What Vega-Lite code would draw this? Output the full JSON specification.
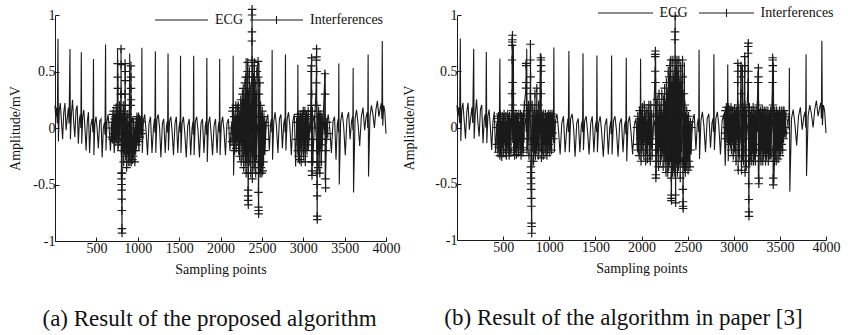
{
"$schema": "https://vega.github.io/schema/vega-lite/v6.json",
"padding": {"left": 8, "top": 2, "right": 5, "bottom": 5},
"config": {
  "view": {"stroke": null},
  "font": "Liberation Serif, Times New Roman, Tinos, DejaVu Serif, serif",
  "axis": {"labelFont": "Liberation Serif, Times New Roman, Tinos, DejaVu Serif, serif", "labelFontSize": 14, "titleFont": "Liberation Serif, Times New Roman, Tinos, DejaVu Serif, serif", "titleFontSize": 14, "titleFontWeight": "normal", "domainColor": "#1a1a1a", "tickColor": "#1a1a1a", "labelColor": "#111", "titleColor": "#111", "grid": false, "tickSize": -4, "labelOverlap": false, "labelFlush": false},
  "legend": {"labelFont": "Liberation Serif, Times New Roman, Tinos, DejaVu Serif, serif", "labelFontSize": 14, "labelColor": "#111", "padding": 0}
},
"datasets": {
"ecg": [
{"x":0,"y":0.20},{"x":8,"y":0.10},{"x":18,"y":0.18},{"x":28,"y":0.04},{"x":36,"y":0.79},{"x":41,"y":-0.12},{"x":52,"y":0.16},{"x":64,"y":0.22},{"x":78,"y":0.06},{"x":92,"y":-0.10},{"x":106,"y":0.14},{"x":120,"y":0.22},{"x":134,"y":-0.02},{"x":150,"y":0.10},{"x":162,"y":0.18},{"x":170,"y":0.04},
{"x":181,"y":0.70},{"x":186,"y":-0.10},{"x":198,"y":0.12},{"x":212,"y":0.25},{"x":226,"y":0.05},{"x":240,"y":-0.08},{"x":254,"y":0.16},{"x":268,"y":0.20},{"x":282,"y":-0.14},{"x":296,"y":0.08},{"x":306,"y":0.12},{"x":312,"y":0},
{"x":318,"y":0.67},{"x":323,"y":-0.14},{"x":335,"y":0.10},{"x":348,"y":0.16},{"x":362,"y":0},{"x":376,"y":-0.20},{"x":390,"y":0.05},{"x":404,"y":0.14},{"x":418,"y":-0.22},{"x":432,"y":0.02},{"x":448,"y":0.08},{"x":458,"y":-0.04},
{"x":465,"y":0.61},{"x":470,"y":-0.24},{"x":482,"y":0.04},{"x":496,"y":0.10},{"x":510,"y":-0.02},{"x":524,"y":-0.18},{"x":540,"y":0.06},{"x":556,"y":0.08},{"x":570,"y":-0.26},{"x":584,"y":0},{"x":598,"y":0.05},{"x":604,"y":-0.06},
{"x":611,"y":0.74},{"x":616,"y":-0.20},{"x":628,"y":0.06},{"x":642,"y":0.12},{"x":656,"y":-0.02},{"x":670,"y":-0.20},{"x":686,"y":0.04},{"x":700,"y":0.08},{"x":716,"y":-0.22},{"x":730,"y":0.02},{"x":744,"y":0.08},{"x":750,"y":-0.04},
{"x":756,"y":0.70},{"x":761,"y":-0.20},{"x":773,"y":0.06},{"x":786,"y":0.12},{"x":800,"y":0},{"x":814,"y":-0.22},{"x":830,"y":0.04},{"x":846,"y":0.10},{"x":862,"y":-0.20},{"x":876,"y":0},{"x":890,"y":0.06},{"x":896,"y":-0.05},
{"x":903,"y":0.66},{"x":908,"y":-0.22},{"x":920,"y":0.04},{"x":934,"y":0.10},{"x":950,"y":-0.02},{"x":966,"y":-0.22},{"x":982,"y":0.04},{"x":998,"y":0.10},{"x":1014,"y":-0.20},{"x":1028,"y":0.02},{"x":1040,"y":0.06},{"x":1045,"y":-0.05},
{"x":1050,"y":0.71},{"x":1055,"y":-0.22},{"x":1068,"y":0.06},{"x":1084,"y":0.12},{"x":1100,"y":-0.02},{"x":1118,"y":-0.24},{"x":1136,"y":0.04},{"x":1154,"y":0.10},{"x":1172,"y":-0.22},{"x":1190,"y":0},{"x":1202,"y":0.08},{"x":1207,"y":-0.04},
{"x":1213,"y":0.68},{"x":1218,"y":-0.22},{"x":1232,"y":0.08},{"x":1248,"y":0.12},{"x":1264,"y":0},{"x":1280,"y":-0.26},{"x":1298,"y":0.04},{"x":1314,"y":0.08},{"x":1332,"y":-0.22},{"x":1348,"y":0.02},{"x":1358,"y":0.06},{"x":1361,"y":-0.04},
{"x":1366,"y":0.66},{"x":1371,"y":-0.20},{"x":1384,"y":0.06},{"x":1400,"y":0.10},{"x":1416,"y":-0.04},{"x":1432,"y":-0.24},{"x":1450,"y":0.04},{"x":1466,"y":0.10},{"x":1484,"y":-0.22},{"x":1498,"y":0},{"x":1510,"y":0.06},{"x":1513,"y":-0.04},
{"x":1517,"y":0.64},{"x":1522,"y":-0.22},{"x":1536,"y":0.04},{"x":1552,"y":0.10},{"x":1568,"y":-0.04},{"x":1586,"y":-0.26},{"x":1604,"y":0.02},{"x":1622,"y":0.08},{"x":1640,"y":-0.24},{"x":1656,"y":0},{"x":1668,"y":0.06},{"x":1671,"y":-0.06},
{"x":1676,"y":0.64},{"x":1681,"y":-0.24},{"x":1696,"y":0.06},{"x":1712,"y":0.10},{"x":1728,"y":-0.02},{"x":1746,"y":-0.26},{"x":1764,"y":0.04},{"x":1782,"y":0.08},{"x":1800,"y":-0.22},{"x":1816,"y":0.02},{"x":1826,"y":0.06},{"x":1830,"y":-0.06},
{"x":1835,"y":0.62},{"x":1840,"y":-0.30},{"x":1854,"y":0.04},{"x":1870,"y":0.10},{"x":1886,"y":-0.04},{"x":1904,"y":-0.24},{"x":1922,"y":0.02},{"x":1940,"y":0.08},{"x":1958,"y":-0.22},{"x":1972,"y":0},{"x":1982,"y":0.06},{"x":1986,"y":-0.04},
{"x":1990,"y":0.61},{"x":1995,"y":-0.24},{"x":2010,"y":0.04},{"x":2026,"y":0.10},{"x":2042,"y":-0.02},{"x":2060,"y":-0.24},{"x":2078,"y":0.04},{"x":2096,"y":0.08},{"x":2114,"y":-0.20},{"x":2130,"y":0.02},{"x":2144,"y":0.06},{"x":2148,"y":-0.08},
{"x":2153,"y":0.64},{"x":2158,"y":-0.42},{"x":2172,"y":0.02},{"x":2188,"y":0.10},{"x":2204,"y":-0.02},{"x":2222,"y":-0.22},{"x":2240,"y":0.04},{"x":2258,"y":0.10},{"x":2276,"y":-0.20},{"x":2292,"y":0.04},{"x":2302,"y":0.08},{"x":2306,"y":-0.06},
{"x":2310,"y":0.62},{"x":2315,"y":-0.30},{"x":2330,"y":0.04},{"x":2346,"y":0.12},{"x":2362,"y":0},{"x":2380,"y":-0.24},{"x":2398,"y":0.06},{"x":2416,"y":0.10},{"x":2434,"y":-0.22},{"x":2448,"y":0.02},{"x":2458,"y":0.06},{"x":2461,"y":-0.06},
{"x":2465,"y":0.58},{"x":2470,"y":-0.40},{"x":2486,"y":0.04},{"x":2502,"y":0.12},{"x":2518,"y":-0.02},{"x":2536,"y":-0.24},{"x":2554,"y":0.06},{"x":2572,"y":0.12},{"x":2590,"y":-0.20},{"x":2606,"y":0.04},{"x":2616,"y":0.08},{"x":2620,"y":-0.04},
{"x":2624,"y":0.69},{"x":2629,"y":-0.28},{"x":2644,"y":0.06},{"x":2660,"y":0.14},{"x":2676,"y":0.02},{"x":2694,"y":-0.22},{"x":2712,"y":0.08},{"x":2730,"y":0.12},{"x":2748,"y":-0.18},{"x":2764,"y":0.04},{"x":2776,"y":0.08},{"x":2780,"y":-0.04},
{"x":2785,"y":0.65},{"x":2790,"y":-0.20},{"x":2806,"y":0.08},{"x":2822,"y":0.14},{"x":2838,"y":0.02},{"x":2856,"y":-0.24},{"x":2874,"y":0.06},{"x":2892,"y":0.12},{"x":2908,"y":-0.34},{"x":2920,"y":0.02},{"x":2928,"y":0.08},{"x":2931,"y":-0.04},
{"x":2935,"y":0.56},{"x":2940,"y":-0.30},{"x":2956,"y":0.04},{"x":2972,"y":0.12},{"x":2990,"y":0},{"x":3008,"y":-0.22},{"x":3026,"y":0.06},{"x":3044,"y":0.10},{"x":3062,"y":-0.20},{"x":3078,"y":0.02},{"x":3088,"y":0.08},{"x":3091,"y":-0.04},
{"x":3095,"y":0.56},{"x":3100,"y":-0.30},{"x":3116,"y":0.04},{"x":3132,"y":0.12},{"x":3150,"y":0},{"x":3170,"y":-0.24},{"x":3190,"y":0.06},{"x":3208,"y":0.12},{"x":3226,"y":-0.20},{"x":3244,"y":0.04},{"x":3254,"y":0.08},{"x":3258,"y":-0.04},
{"x":3262,"y":0.50},{"x":3267,"y":-0.45},{"x":3284,"y":0.04},{"x":3302,"y":0.12},{"x":3320,"y":0},{"x":3340,"y":-0.22},{"x":3360,"y":0.06},{"x":3378,"y":0.10},{"x":3396,"y":-0.28},{"x":3412,"y":0.04},{"x":3422,"y":0.08},{"x":3426,"y":-0.04},
{"x":3430,"y":0.57},{"x":3435,"y":-0.50},{"x":3452,"y":0.06},{"x":3470,"y":0.14},{"x":3488,"y":0.02},{"x":3508,"y":-0.24},{"x":3528,"y":0.08},{"x":3548,"y":0.14},{"x":3566,"y":-0.10},{"x":3584,"y":0.06},{"x":3596,"y":0.10},{"x":3599,"y":-0.02},
{"x":3603,"y":0.53},{"x":3608,"y":-0.57},{"x":3626,"y":0.08},{"x":3644,"y":0.16},{"x":3662,"y":0.04},{"x":3682,"y":-0.16},{"x":3702,"y":0.10},{"x":3722,"y":0.18},{"x":3742,"y":-0.02},{"x":3760,"y":0.10},{"x":3774,"y":0.14},{"x":3779,"y":0},
{"x":3784,"y":0.65},{"x":3789,"y":-0.43},{"x":3806,"y":0.10},{"x":3824,"y":0.20},{"x":3842,"y":0.12},{"x":3860,"y":0},{"x":3878,"y":0.16},{"x":3896,"y":0.24},{"x":3914,"y":0.10},{"x":3932,"y":0.18},{"x":3944,"y":0.22},{"x":3950,"y":0.08},
{"x":3955,"y":0.77},{"x":3961,"y":0.02},{"x":3972,"y":0.20},{"x":3985,"y":0.15},{"x":4000,"y":-0.05}
],
"intA": [
{"g":1,"x":680,"y":0},{"g":1,"x":685,"y":-0.08},{"g":1,"x":690,"y":0.05},{"g":1,"x":695,"y":-0.1},{"g":1,"x":700,"y":0.12},{"g":1,"x":705,"y":-0.05},{"g":1,"x":710,"y":0.15},{"g":1,"x":715,"y":-0.1},{"g":1,"x":720,"y":0.08},{"g":1,"x":725,"y":-0.12},{"g":1,"x":730,"y":0.1},{"g":1,"x":735,"y":-0.06},{"g":1,"x":740,"y":0.18},{"g":1,"x":745,"y":-0.1},{"g":1,"x":750,"y":0.05},
{"g":1,"x":756,"y":0.2},{"g":1,"x":757,"y":0.57},{"g":1,"x":758,"y":0.45},{"g":1,"x":759,"y":0.35},{"g":1,"x":760,"y":0.1},{"g":1,"x":765,"y":-0.15},{"g":1,"x":770,"y":0.12},{"g":1,"x":775,"y":-0.05},{"g":1,"x":780,"y":0.2},{"g":1,"x":785,"y":-0.12},{"g":1,"x":790,"y":0.15},
{"g":1,"x":797,"y":0.3},{"g":1,"x":798,"y":0.7},{"g":1,"x":799,"y":0.56},{"g":1,"x":800,"y":0.3},{"g":1,"x":801,"y":0.1},{"g":1,"x":802,"y":-0.2},{"g":1,"x":803,"y":-0.4},{"g":1,"x":804,"y":-0.45},{"g":1,"x":805,"y":-0.5},{"g":1,"x":806,"y":-0.55},{"g":1,"x":807,"y":-0.63},{"g":1,"x":808,"y":-0.73},{"g":1,"x":809,"y":-0.89},{"g":1,"x":810,"y":-0.93},{"g":1,"x":811,"y":-0.4},{"g":1,"x":812,"y":-0.1},
{"g":1,"x":815,"y":0.1},{"g":1,"x":820,"y":-0.15},{"g":1,"x":825,"y":0.2},{"g":1,"x":830,"y":-0.3},{"g":1,"x":835,"y":0.15},{"g":1,"x":840,"y":-0.2},
{"g":1,"x":846,"y":0.3},{"g":1,"x":847,"y":0.57},{"g":1,"x":848,"y":0.5},{"g":1,"x":849,"y":0.42},{"g":1,"x":850,"y":0.2},{"g":1,"x":855,"y":-0.25},{"g":1,"x":860,"y":0.1},{"g":1,"x":865,"y":-0.35},{"g":1,"x":870,"y":0.05},{"g":1,"x":875,"y":-0.2},{"g":1,"x":880,"y":0.12},{"g":1,"x":885,"y":-0.3},{"g":1,"x":890,"y":-0.05},{"g":1,"x":895,"y":-0.25},{"g":1,"x":900,"y":0.05},{"g":1,"x":905,"y":-0.3},{"g":1,"x":910,"y":-0.1},
{"g":1,"x":916,"y":0.2},{"g":1,"x":917,"y":0.55},{"g":1,"x":918,"y":0.45},{"g":1,"x":919,"y":0.35},{"g":1,"x":920,"y":0.25},{"g":1,"x":921,"y":-0.1},{"g":1,"x":922,"y":-0.3},{"g":1,"x":925,"y":-0.2},{"g":1,"x":930,"y":0},{"g":1,"x":935,"y":-0.28},{"g":1,"x":940,"y":-0.1},{"g":1,"x":945,"y":-0.25},{"g":1,"x":950,"y":0.05},{"g":1,"x":955,"y":-0.2},{"g":1,"x":960,"y":-0.05},{"g":1,"x":965,"y":-0.3},{"g":1,"x":970,"y":0},{"g":1,"x":975,"y":-0.2},{"g":1,"x":980,"y":0.05},{"g":1,"x":985,"y":-0.15},{"g":1,"x":990,"y":0.1},{"g":1,"x":995,"y":-0.1},{"g":1,"x":1000,"y":0.08},{"g":1,"x":1005,"y":-0.12},{"g":1,"x":1010,"y":0.1},{"g":1,"x":1015,"y":-0.05},{"g":1,"x":1020,"y":0.08},{"g":1,"x":1025,"y":-0.08},{"g":1,"x":1030,"y":0.05},{"g":1,"x":1035,"y":-0.02},{"g":1,"x":1040,"y":0.06},{"g":1,"x":1045,"y":-0.05},
{"g":2,"x":2135,"y":0},{"g":2,"x":2140,"y":-0.12},{"g":2,"x":2145,"y":0.15},{"g":2,"x":2150,"y":-0.05},{"g":2,"x":2155,"y":0.18},{"g":2,"x":2160,"y":-0.15},{"g":2,"x":2165,"y":0.1},{"g":2,"x":2170,"y":-0.2},{"g":2,"x":2175,"y":0.05},{"g":2,"x":2180,"y":-0.1},{"g":2,"x":2185,"y":0.2},{"g":2,"x":2190,"y":-0.18},{"g":2,"x":2195,"y":0.08},{"g":2,"x":2200,"y":-0.12},{"g":2,"x":2205,"y":0.18},{"g":2,"x":2210,"y":-0.05},{"g":2,"x":2215,"y":0.2},{"g":2,"x":2220,"y":-0.2},{"g":2,"x":2225,"y":0.1},{"g":2,"x":2230,"y":-0.25},{"g":2,"x":2235,"y":0.15},{"g":2,"x":2240,"y":-0.1},{"g":2,"x":2245,"y":0.25},{"g":2,"x":2250,"y":-0.3},{"g":2,"x":2255,"y":0.2},{"g":2,"x":2260,"y":-0.15},{"g":2,"x":2265,"y":0.3},{"g":2,"x":2270,"y":-0.25},{"g":2,"x":2275,"y":0.35},{"g":2,"x":2280,"y":-0.35},{"g":2,"x":2285,"y":0.25},{"g":2,"x":2290,"y":-0.2},{"g":2,"x":2295,"y":0.4},{"g":2,"x":2300,"y":-0.3},{"g":2,"x":2305,"y":0.45},{"g":2,"x":2310,"y":-0.4},{"g":2,"x":2315,"y":0.3},{"g":2,"x":2320,"y":-0.25},
{"g":2,"x":2328,"y":0.5},{"g":2,"x":2329,"y":0.58},{"g":2,"x":2330,"y":0.45},{"g":2,"x":2331,"y":0.2},{"g":2,"x":2332,"y":-0.3},{"g":2,"x":2333,"y":-0.55},{"g":2,"x":2334,"y":-0.6},{"g":2,"x":2335,"y":-0.64},{"g":2,"x":2336,"y":-0.68},{"g":2,"x":2337,"y":-0.4},
{"g":2,"x":2340,"y":0.3},{"g":2,"x":2345,"y":-0.2},{"g":2,"x":2350,"y":0.5},{"g":2,"x":2355,"y":-0.3},{"g":2,"x":2360,"y":0.35},{"g":2,"x":2365,"y":-0.4},
{"g":2,"x":2378,"y":0.4},{"g":2,"x":2379,"y":0.77},{"g":2,"x":2380,"y":0.85},{"g":2,"x":2381,"y":1.0},{"g":2,"x":2382,"y":1.05},{"g":2,"x":2383,"y":0.6},{"g":2,"x":2384,"y":0.2},{"g":2,"x":2385,"y":-0.45},{"g":2,"x":2386,"y":-0.2},
{"g":2,"x":2390,"y":0.55},{"g":2,"x":2395,"y":-0.25},{"g":2,"x":2400,"y":0.45},{"g":2,"x":2405,"y":-0.35},{"g":2,"x":2410,"y":0.58},{"g":2,"x":2415,"y":-0.3},{"g":2,"x":2420,"y":0.4},{"g":2,"x":2425,"y":-0.4},{"g":2,"x":2430,"y":0.3},{"g":2,"x":2435,"y":-0.25},{"g":2,"x":2440,"y":0.5},
{"g":2,"x":2454,"y":0.59},{"g":2,"x":2455,"y":0.45},{"g":2,"x":2456,"y":0.1},{"g":2,"x":2457,"y":-0.3},{"g":2,"x":2458,"y":-0.57},{"g":2,"x":2459,"y":-0.7},{"g":2,"x":2460,"y":-0.73},{"g":2,"x":2461,"y":-0.76},{"g":2,"x":2462,"y":-0.4},
{"g":2,"x":2465,"y":0.3},{"g":2,"x":2470,"y":-0.3},{"g":2,"x":2475,"y":0.4},{"g":2,"x":2480,"y":-0.4},{"g":2,"x":2485,"y":0.2},{"g":2,"x":2490,"y":-0.35},{"g":2,"x":2495,"y":0.1},{"g":2,"x":2500,"y":-0.4},{"g":2,"x":2505,"y":0.15},{"g":2,"x":2510,"y":-0.38},{"g":2,"x":2515,"y":0.05},{"g":2,"x":2520,"y":-0.3},{"g":2,"x":2525,"y":0.1},{"g":2,"x":2530,"y":-0.2},{"g":2,"x":2535,"y":0.05},{"g":2,"x":2540,"y":-0.1},{"g":2,"x":2545,"y":0.02},
{"g":3,"x":2920,"y":0.05},{"g":3,"x":2925,"y":-0.1},{"g":3,"x":2930,"y":0.1},{"g":3,"x":2935,"y":-0.2},{"g":3,"x":2940,"y":0.12},{"g":3,"x":2945,"y":-0.25},{"g":3,"x":2950,"y":0.05},{"g":3,"x":2955,"y":-0.28},{"g":3,"x":2960,"y":0.1},{"g":3,"x":2965,"y":-0.15},{"g":3,"x":2970,"y":0.12},{"g":3,"x":2975,"y":-0.3},{"g":3,"x":2980,"y":0},{"g":3,"x":2985,"y":-0.2},{"g":3,"x":2990,"y":0.12},{"g":3,"x":2995,"y":-0.1},{"g":3,"x":3000,"y":0.15},{"g":3,"x":3005,"y":-0.25},{"g":3,"x":3010,"y":0.05},{"g":3,"x":3015,"y":-0.15},{"g":3,"x":3020,"y":0.15},{"g":3,"x":3025,"y":-0.3},{"g":3,"x":3030,"y":0.1},{"g":3,"x":3035,"y":-0.1},{"g":3,"x":3040,"y":0.12},{"g":3,"x":3045,"y":-0.2},{"g":3,"x":3050,"y":0.08},{"g":3,"x":3055,"y":-0.15},{"g":3,"x":3060,"y":0.15},{"g":3,"x":3065,"y":-0.1},
{"g":3,"x":3098,"y":0.2},{"g":3,"x":3099,"y":0.5},{"g":3,"x":3100,"y":0.55},{"g":3,"x":3101,"y":0.62},{"g":3,"x":3102,"y":0.3},{"g":3,"x":3103,"y":-0.1},{"g":3,"x":3104,"y":-0.3},{"g":3,"x":3105,"y":-0.38},{"g":3,"x":3106,"y":-0.42},{"g":3,"x":3107,"y":0},{"g":3,"x":3110,"y":0.15},{"g":3,"x":3115,"y":-0.3},
{"g":3,"x":3158,"y":0.4},{"g":3,"x":3159,"y":0.6},{"g":3,"x":3160,"y":0.63},{"g":3,"x":3161,"y":0.7},{"g":3,"x":3162,"y":0.5},{"g":3,"x":3163,"y":0.2},{"g":3,"x":3164,"y":-0.2},{"g":3,"x":3165,"y":-0.4},{"g":3,"x":3166,"y":-0.5},{"g":3,"x":3167,"y":-0.6},{"g":3,"x":3168,"y":-0.78},{"g":3,"x":3169,"y":-0.81},{"g":3,"x":3170,"y":-0.3},
{"g":3,"x":3175,"y":0.1},{"g":3,"x":3180,"y":-0.35},{"g":3,"x":3185,"y":0.15},{"g":3,"x":3190,"y":-0.2},{"g":3,"x":3195,"y":0.1},{"g":3,"x":3200,"y":-0.4},{"g":3,"x":3205,"y":0.12},{"g":3,"x":3210,"y":-0.15},{"g":3,"x":3215,"y":0.08},{"g":3,"x":3220,"y":-0.3},{"g":3,"x":3225,"y":0.1},{"g":3,"x":3230,"y":-0.1},
{"g":3,"x":3262,"y":0.48},{"g":3,"x":3264,"y":0.3},{"g":3,"x":3266,"y":0},{"g":3,"x":3268,"y":-0.45},{"g":3,"x":3270,"y":-0.53},{"g":3,"x":3272,"y":-0.2},{"g":3,"x":3276,"y":0.05},{"g":3,"x":3282,"y":-0.1},{"g":3,"x":3290,"y":0.05},{"g":3,"x":3296,"y":-0.05}
],
"intB": [
{"g":1,"x":430,"y":0},{"g":1,"x":435,"y":-0.15},{"g":1,"x":440,"y":0.08},{"g":1,"x":445,"y":-0.22},{"g":1,"x":450,"y":0.1},{"g":1,"x":455,"y":-0.18},{"g":1,"x":460,"y":0.05},{"g":1,"x":465,"y":-0.25},{"g":1,"x":470,"y":0.12},{"g":1,"x":475,"y":-0.2},{"g":1,"x":480,"y":0},{"g":1,"x":485,"y":-0.26},{"g":1,"x":490,"y":0.1},{"g":1,"x":495,"y":-0.15},{"g":1,"x":500,"y":0.08},{"g":1,"x":505,"y":-0.22},{"g":1,"x":510,"y":0.12},{"g":1,"x":515,"y":-0.1},{"g":1,"x":520,"y":0.05},{"g":1,"x":525,"y":-0.2},{"g":1,"x":530,"y":0.1},{"g":1,"x":535,"y":-0.25},{"g":1,"x":540,"y":0.02},{"g":1,"x":545,"y":-0.15},{"g":1,"x":550,"y":0.12},{"g":1,"x":555,"y":-0.2},{"g":1,"x":560,"y":0.08},{"g":1,"x":565,"y":-0.25},{"g":1,"x":570,"y":0.1},{"g":1,"x":575,"y":-0.1},{"g":1,"x":580,"y":0.05},{"g":1,"x":585,"y":-0.22},
{"g":1,"x":596,"y":0.3},{"g":1,"x":597,"y":0.6},{"g":1,"x":598,"y":0.73},{"g":1,"x":599,"y":0.76},{"g":1,"x":600,"y":0.78},{"g":1,"x":601,"y":0.82},{"g":1,"x":602,"y":0.4},{"g":1,"x":603,"y":0.2},{"g":1,"x":604,"y":-0.1},
{"g":1,"x":610,"y":0.15},{"g":1,"x":615,"y":-0.2},{"g":1,"x":620,"y":0.1},{"g":1,"x":625,"y":-0.25},{"g":1,"x":630,"y":0.05},{"g":1,"x":635,"y":-0.18},{"g":1,"x":640,"y":0.12},{"g":1,"x":645,"y":-0.24},{"g":1,"x":650,"y":0.1},{"g":1,"x":655,"y":-0.15},{"g":1,"x":660,"y":0.08},{"g":1,"x":665,"y":-0.22},{"g":1,"x":670,"y":0.12},{"g":1,"x":675,"y":-0.1},{"g":1,"x":680,"y":0.02},{"g":1,"x":685,"y":-0.2},{"g":1,"x":690,"y":0.12},{"g":1,"x":695,"y":-0.25},{"g":1,"x":700,"y":0.1},{"g":1,"x":705,"y":-0.18},{"g":1,"x":710,"y":0.08},{"g":1,"x":715,"y":-0.22},{"g":1,"x":720,"y":0.12},{"g":1,"x":725,"y":-0.1},{"g":1,"x":730,"y":0.2},
{"g":1,"x":748,"y":0.35},{"g":1,"x":749,"y":0.57},{"g":1,"x":750,"y":0.55},{"g":1,"x":752,"y":0.4},{"g":1,"x":755,"y":0.1},{"g":1,"x":760,"y":-0.2},{"g":1,"x":765,"y":0.15},{"g":1,"x":770,"y":-0.1},{"g":1,"x":775,"y":0.2},{"g":1,"x":780,"y":-0.25},{"g":1,"x":785,"y":0.1},
{"g":1,"x":795,"y":0.3},{"g":1,"x":796,"y":0.74},{"g":1,"x":797,"y":0.6},{"g":1,"x":798,"y":0.45},{"g":1,"x":799,"y":0.2},{"g":1,"x":800,"y":-0.1},{"g":1,"x":801,"y":-0.35},{"g":1,"x":802,"y":-0.4},{"g":1,"x":803,"y":-0.45},{"g":1,"x":804,"y":-0.5},{"g":1,"x":805,"y":-0.55},{"g":1,"x":806,"y":-0.63},{"g":1,"x":807,"y":-0.7},{"g":1,"x":808,"y":-0.85},{"g":1,"x":809,"y":-0.88},{"g":1,"x":810,"y":-0.94},{"g":1,"x":811,"y":-0.3},
{"g":1,"x":815,"y":0.2},{"g":1,"x":820,"y":-0.15},{"g":1,"x":825,"y":0.1},{"g":1,"x":830,"y":-0.3},{"g":1,"x":835,"y":0.15},{"g":1,"x":840,"y":-0.2},{"g":1,"x":845,"y":0.3},{"g":1,"x":850,"y":-0.25},{"g":1,"x":855,"y":0.1},{"g":1,"x":860,"y":-0.2},{"g":1,"x":865,"y":0.35},{"g":1,"x":870,"y":-0.15},{"g":1,"x":875,"y":0.12},{"g":1,"x":880,"y":-0.25},{"g":1,"x":885,"y":0.2},{"g":1,"x":890,"y":-0.2},
{"g":1,"x":908,"y":0.4},{"g":1,"x":909,"y":0.62},{"g":1,"x":910,"y":0.6},{"g":1,"x":911,"y":0.55},{"g":1,"x":912,"y":0.5},{"g":1,"x":913,"y":0.3},{"g":1,"x":914,"y":0},{"g":1,"x":915,"y":-0.27},
{"g":1,"x":920,"y":0.12},{"g":1,"x":925,"y":-0.2},{"g":1,"x":930,"y":0.1},{"g":1,"x":935,"y":-0.25},{"g":1,"x":940,"y":0.12},{"g":1,"x":945,"y":-0.15},{"g":1,"x":950,"y":0.05},{"g":1,"x":955,"y":-0.22},{"g":1,"x":960,"y":0.12},{"g":1,"x":965,"y":-0.1},{"g":1,"x":970,"y":0.08},{"g":1,"x":975,"y":-0.25},{"g":1,"x":980,"y":0.1},{"g":1,"x":985,"y":-0.2},{"g":1,"x":990,"y":0.12},{"g":1,"x":995,"y":-0.15},{"g":1,"x":1000,"y":0.1},{"g":1,"x":1005,"y":-0.22},{"g":1,"x":1010,"y":0.12},{"g":1,"x":1015,"y":-0.1},{"g":1,"x":1020,"y":0.1},{"g":1,"x":1025,"y":-0.2},{"g":1,"x":1030,"y":0.12},{"g":1,"x":1035,"y":-0.05},{"g":1,"x":1040,"y":0.1},{"g":1,"x":1045,"y":-0.1},{"g":1,"x":1050,"y":0.05},
{"g":2,"x":1950,"y":0},{"g":2,"x":1955,"y":-0.15},{"g":2,"x":1960,"y":0.1},{"g":2,"x":1965,"y":-0.2},{"g":2,"x":1970,"y":0.05},{"g":2,"x":1975,"y":-0.25},{"g":2,"x":1980,"y":0.15},{"g":2,"x":1985,"y":-0.1},{"g":2,"x":1990,"y":0.08},{"g":2,"x":1995,"y":-0.3},{"g":2,"x":2000,"y":0.12},{"g":2,"x":2005,"y":-0.2},{"g":2,"x":2010,"y":0.18},{"g":2,"x":2015,"y":-0.15},{"g":2,"x":2020,"y":0.05},{"g":2,"x":2025,"y":-0.25},{"g":2,"x":2030,"y":0.2},{"g":2,"x":2035,"y":-0.1},{"g":2,"x":2040,"y":0.1},{"g":2,"x":2045,"y":-0.3},{"g":2,"x":2050,"y":0.15},{"g":2,"x":2055,"y":-0.2},{"g":2,"x":2060,"y":0.05},{"g":2,"x":2065,"y":-0.28},{"g":2,"x":2070,"y":0.15},{"g":2,"x":2075,"y":-0.12},{"g":2,"x":2080,"y":0.2},{"g":2,"x":2085,"y":-0.25},{"g":2,"x":2090,"y":0.1},{"g":2,"x":2095,"y":-0.3},{"g":2,"x":2100,"y":0.2},{"g":2,"x":2105,"y":-0.15},{"g":2,"x":2110,"y":0.12},{"g":2,"x":2115,"y":-0.25},
{"g":2,"x":2148,"y":0.5},{"g":2,"x":2149,"y":0.63},{"g":2,"x":2150,"y":0.65},{"g":2,"x":2151,"y":0.68},{"g":2,"x":2152,"y":0.4},{"g":2,"x":2153,"y":0.1},{"g":2,"x":2154,"y":-0.2},{"g":2,"x":2155,"y":-0.42},{"g":2,"x":2156,"y":-0.45},{"g":2,"x":2157,"y":-0.1},
{"g":2,"x":2160,"y":0.2},{"g":2,"x":2165,"y":-0.3},{"g":2,"x":2170,"y":0.25},{"g":2,"x":2175,"y":-0.2},{"g":2,"x":2180,"y":0.1},{"g":2,"x":2185,"y":-0.35},{"g":2,"x":2190,"y":0.3},{"g":2,"x":2195,"y":-0.15},{"g":2,"x":2200,"y":0.2},{"g":2,"x":2205,"y":-0.3},{"g":2,"x":2210,"y":0.15},{"g":2,"x":2215,"y":-0.25},{"g":2,"x":2220,"y":0.3},{"g":2,"x":2225,"y":-0.2},{"g":2,"x":2230,"y":0.1},{"g":2,"x":2235,"y":-0.35},{"g":2,"x":2240,"y":0.25},{"g":2,"x":2245,"y":-0.25},{"g":2,"x":2250,"y":0.35},{"g":2,"x":2255,"y":-0.3},{"g":2,"x":2260,"y":0.2},{"g":2,"x":2265,"y":-0.4},{"g":2,"x":2270,"y":0.4},{"g":2,"x":2275,"y":-0.3},{"g":2,"x":2280,"y":0.3},{"g":2,"x":2285,"y":-0.4},{"g":2,"x":2290,"y":0.5},{"g":2,"x":2295,"y":-0.35},{"g":2,"x":2300,"y":0.45},{"g":2,"x":2305,"y":-0.3},{"g":2,"x":2310,"y":0.55},
{"g":2,"x":2318,"y":0.6},{"g":2,"x":2320,"y":0.3},{"g":2,"x":2321,"y":-0.2},{"g":2,"x":2322,"y":-0.45},{"g":2,"x":2323,"y":-0.6},{"g":2,"x":2324,"y":-0.63},{"g":2,"x":2325,"y":-0.65},{"g":2,"x":2326,"y":-0.3},
{"g":2,"x":2330,"y":0.4},{"g":2,"x":2335,"y":-0.4},{"g":2,"x":2340,"y":0.6},{"g":2,"x":2345,"y":-0.35},{"g":2,"x":2350,"y":0.45},{"g":2,"x":2355,"y":-0.4},
{"g":2,"x":2362,"y":0.5},{"g":2,"x":2363,"y":0.78},{"g":2,"x":2364,"y":0.85},{"g":2,"x":2365,"y":0.99},{"g":2,"x":2366,"y":0.6},{"g":2,"x":2367,"y":0.1},{"g":2,"x":2368,"y":-0.3},{"g":2,"x":2369,"y":-0.6},{"g":2,"x":2370,"y":-0.67},{"g":2,"x":2371,"y":-0.2},
{"g":2,"x":2375,"y":0.55},{"g":2,"x":2380,"y":-0.3},{"g":2,"x":2385,"y":0.6},{"g":2,"x":2390,"y":-0.4},{"g":2,"x":2395,"y":0.5},{"g":2,"x":2400,"y":-0.35},{"g":2,"x":2405,"y":0.6},{"g":2,"x":2410,"y":-0.3},{"g":2,"x":2415,"y":0.4},{"g":2,"x":2420,"y":-0.45},{"g":2,"x":2425,"y":0.55},{"g":2,"x":2430,"y":-0.3},{"g":2,"x":2435,"y":0.3},
{"g":2,"x":2445,"y":0.6},{"g":2,"x":2446,"y":0.45},{"g":2,"x":2447,"y":0.1},{"g":2,"x":2448,"y":-0.3},{"g":2,"x":2449,"y":-0.55},{"g":2,"x":2450,"y":-0.66},{"g":2,"x":2451,"y":-0.7},{"g":2,"x":2452,"y":-0.72},{"g":2,"x":2453,"y":-0.3},
{"g":2,"x":2460,"y":0.3},{"g":2,"x":2465,"y":-0.35},{"g":2,"x":2470,"y":0.2},{"g":2,"x":2475,"y":-0.4},{"g":2,"x":2480,"y":0.1},{"g":2,"x":2485,"y":-0.35},{"g":2,"x":2490,"y":0.15},{"g":2,"x":2495,"y":-0.3},{"g":2,"x":2500,"y":0.05},{"g":2,"x":2505,"y":-0.38},{"g":2,"x":2510,"y":0.1},{"g":2,"x":2515,"y":-0.3},{"g":2,"x":2520,"y":0},{"g":2,"x":2525,"y":-0.35},{"g":2,"x":2530,"y":0.05},{"g":2,"x":2535,"y":-0.2},{"g":2,"x":2540,"y":0},
{"g":3,"x":2900,"y":0.1},{"g":3,"x":2905,"y":-0.05},{"g":3,"x":2910,"y":0.15},{"g":3,"x":2915,"y":-0.1},{"g":3,"x":2920,"y":0.18},{"g":3,"x":2925,"y":0},{"g":3,"x":2930,"y":0.15},{"g":3,"x":2935,"y":-0.1},{"g":3,"x":2940,"y":0.18},{"g":3,"x":2945,"y":-0.05},{"g":3,"x":2950,"y":0.16},{"g":3,"x":2955,"y":-0.12},{"g":3,"x":2960,"y":0.1},{"g":3,"x":2965,"y":-0.15},{"g":3,"x":2970,"y":0.18},{"g":3,"x":2975,"y":-0.2},{"g":3,"x":2980,"y":0.12},{"g":3,"x":2985,"y":-0.1},{"g":3,"x":2990,"y":0.15},{"g":3,"x":2995,"y":-0.25},{"g":3,"x":3000,"y":0.1},{"g":3,"x":3005,"y":-0.15},{"g":3,"x":3010,"y":0.17},{"g":3,"x":3015,"y":-0.2},{"g":3,"x":3020,"y":0.12},{"g":3,"x":3025,"y":-0.3},{"g":3,"x":3030,"y":0.15},{"g":3,"x":3035,"y":-0.1},
{"g":3,"x":3043,"y":0.4},{"g":3,"x":3044,"y":0.57},{"g":3,"x":3045,"y":0.5},{"g":3,"x":3046,"y":0.2},{"g":3,"x":3047,"y":-0.2},{"g":3,"x":3048,"y":-0.38},{"g":3,"x":3049,"y":-0.1},{"g":3,"x":3055,"y":0.15},{"g":3,"x":3060,"y":-0.25},
{"g":3,"x":3078,"y":0.45},{"g":3,"x":3079,"y":0.55},{"g":3,"x":3080,"y":0.5},{"g":3,"x":3081,"y":0.3},{"g":3,"x":3082,"y":-0.1},{"g":3,"x":3083,"y":-0.3},{"g":3,"x":3084,"y":-0.38},{"g":3,"x":3085,"y":0},{"g":3,"x":3090,"y":0.12},{"g":3,"x":3095,"y":-0.25},{"g":3,"x":3100,"y":0.18},{"g":3,"x":3105,"y":-0.3},{"g":3,"x":3110,"y":0.1},
{"g":3,"x":3118,"y":0.5},{"g":3,"x":3119,"y":0.63},{"g":3,"x":3120,"y":0.55},{"g":3,"x":3121,"y":0.2},{"g":3,"x":3122,"y":-0.2},{"g":3,"x":3123,"y":-0.4},{"g":3,"x":3124,"y":-0.1},{"g":3,"x":3130,"y":0.15},{"g":3,"x":3135,"y":-0.35},{"g":3,"x":3140,"y":0.1},
{"g":3,"x":3155,"y":0.4},{"g":3,"x":3156,"y":0.66},{"g":3,"x":3157,"y":0.72},{"g":3,"x":3158,"y":0.75},{"g":3,"x":3159,"y":0.5},{"g":3,"x":3160,"y":0.1},{"g":3,"x":3161,"y":-0.3},{"g":3,"x":3162,"y":-0.5},{"g":3,"x":3163,"y":-0.64},{"g":3,"x":3164,"y":-0.75},{"g":3,"x":3165,"y":-0.79},{"g":3,"x":3166,"y":-0.3},
{"g":3,"x":3170,"y":0.18},{"g":3,"x":3175,"y":-0.3},{"g":3,"x":3180,"y":0.1},{"g":3,"x":3185,"y":-0.25},{"g":3,"x":3190,"y":0.15},{"g":3,"x":3195,"y":-0.3},{"g":3,"x":3200,"y":0.1},{"g":3,"x":3205,"y":-0.2},{"g":3,"x":3210,"y":0.18},{"g":3,"x":3215,"y":-0.3},{"g":3,"x":3220,"y":0.12},{"g":3,"x":3225,"y":-0.25},{"g":3,"x":3230,"y":0.15},{"g":3,"x":3235,"y":-0.3},{"g":3,"x":3240,"y":0.1},{"g":3,"x":3245,"y":-0.2},{"g":3,"x":3250,"y":0.15},
{"g":3,"x":3266,"y":0.4},{"g":3,"x":3267,"y":0.53},{"g":3,"x":3268,"y":0.45},{"g":3,"x":3269,"y":0.2},{"g":3,"x":3270,"y":-0.2},{"g":3,"x":3271,"y":-0.45},{"g":3,"x":3272,"y":-0.5},{"g":3,"x":3273,"y":-0.15},
{"g":3,"x":3280,"y":0.12},{"g":3,"x":3285,"y":-0.25},{"g":3,"x":3290,"y":0.15},{"g":3,"x":3295,"y":-0.3},{"g":3,"x":3300,"y":0.1},{"g":3,"x":3305,"y":-0.2},{"g":3,"x":3310,"y":0.16},{"g":3,"x":3315,"y":-0.3},{"g":3,"x":3320,"y":0.12},{"g":3,"x":3325,"y":-0.25},{"g":3,"x":3330,"y":0.15},{"g":3,"x":3335,"y":-0.2},{"g":3,"x":3340,"y":0.1},{"g":3,"x":3345,"y":-0.3},{"g":3,"x":3350,"y":0.15},{"g":3,"x":3355,"y":-0.25},{"g":3,"x":3360,"y":0.1},{"g":3,"x":3365,"y":-0.2},{"g":3,"x":3370,"y":0.15},{"g":3,"x":3375,"y":-0.3},{"g":3,"x":3380,"y":0.1},{"g":3,"x":3385,"y":-0.25},{"g":3,"x":3390,"y":0.12},{"g":3,"x":3395,"y":-0.2},{"g":3,"x":3400,"y":0.15},{"g":3,"x":3405,"y":-0.25},{"g":3,"x":3410,"y":0.1},
{"g":3,"x":3420,"y":0.4},{"g":3,"x":3421,"y":0.62},{"g":3,"x":3422,"y":0.6},{"g":3,"x":3423,"y":0.55},{"g":3,"x":3424,"y":0.5},{"g":3,"x":3425,"y":0.2},{"g":3,"x":3426,"y":-0.2},{"g":3,"x":3427,"y":-0.45},{"g":3,"x":3428,"y":-0.51},{"g":3,"x":3429,"y":-0.2},
{"g":3,"x":3435,"y":0.12},{"g":3,"x":3440,"y":-0.3},{"g":3,"x":3445,"y":0.15},{"g":3,"x":3450,"y":-0.25},{"g":3,"x":3455,"y":0.1},{"g":3,"x":3460,"y":-0.3},{"g":3,"x":3465,"y":0.15},{"g":3,"x":3470,"y":-0.2},{"g":3,"x":3475,"y":0.12},{"g":3,"x":3480,"y":-0.28},{"g":3,"x":3485,"y":0.1},{"g":3,"x":3490,"y":-0.2},{"g":3,"x":3495,"y":0.15},{"g":3,"x":3500,"y":-0.25},{"g":3,"x":3505,"y":0.1},{"g":3,"x":3510,"y":-0.2},{"g":3,"x":3515,"y":0.15},{"g":3,"x":3520,"y":-0.15},{"g":3,"x":3525,"y":0.12},{"g":3,"x":3530,"y":-0.2},{"g":3,"x":3535,"y":0.15},{"g":3,"x":3540,"y":-0.1},{"g":3,"x":3545,"y":0.15},{"g":3,"x":3550,"y":-0.05},{"g":3,"x":3555,"y":0.12},{"g":3,"x":3560,"y":0},{"g":3,"x":3565,"y":0.1}
]
},
"spacing": 71,
"bounds": "flush",
"resolve": {"scale": {"color": "independent"}, "legend": {"color": "independent"}},
"hconcat": [
{
  "width": 331, "height": 226,
  "title": {"text": "(a) Result of the proposed algorithm", "orient": "bottom", "anchor": "middle", "frame": "group", "font": "Liberation Serif, Times New Roman, Tinos, DejaVu Serif, serif", "fontSize": 23, "fontWeight": "normal", "color": "#111", "offset": 32, "dx": -11},
  "layer": [
    {"data": {"name": "ecg"}, "mark": {"type": "line", "strokeWidth": 1.1},
     "encoding": {
       "x": {"field": "x", "type": "quantitative", "scale": {"domain": [0, 4000], "nice": false, "zero": false}, "axis": {"values": [500,1000,1500,2000,2500,3000,3500,4000], "format": "d", "title": "Sampling points", "labelPadding": 4, "titlePadding": 7}},
       "y": {"field": "y", "type": "quantitative", "scale": {"domain": [-1, 1], "nice": false}, "axis": {"values": [-1,-0.5,0,0.5,1], "labelExpr": "'' + datum.value", "title": "Amplitude/mV", "labelPadding": 4, "titlePadding": 10}},
       "color": {"datum": "ECG", "scale": {"domain": ["ECG", "Interferences"], "range": ["#1a1a1a", "#1a1a1a"]},
         "legend": {"orient": "none", "legendX": 119.5, "legendY": -2, "direction": "horizontal", "title": null, "symbolSize": 100, "symbolStrokeWidth": 1.1, "labelOffset": 26.5, "columnPadding": 4,
           "encode": {"symbols": {"update": {"shape": {"signal": "datum.value === 'Interferences' ? 'M-5.3,0H5.3M0,-0.8V0.8' : 'M-5.3,0H5.3'"}}}}}}
     }},
    {"data": {"name": "intA"}, "mark": {"type": "line", "strokeWidth": 1.1},
     "encoding": {
       "x": {"field": "x", "type": "quantitative"},
       "y": {"field": "y", "type": "quantitative"},
       "detail": {"field": "g"},
       "color": {"datum": "Interferences"}
     }},
    {"data": {"name": "intA"}, "mark": {"type": "point", "shape": "M-1,0H1M0,-1V1", "size": 72, "filled": false, "stroke": "#1a1a1a", "strokeWidth": 1.2, "opacity": 1},
     "encoding": {
       "x": {"field": "x", "type": "quantitative"},
       "y": {"field": "y", "type": "quantitative"}
     }}
  ]
},
{
  "width": 369, "height": 225,
  "title": {"text": "(b) Result of the algorithm in paper [3]", "orient": "bottom", "anchor": "middle", "frame": "group", "font": "Liberation Serif, Times New Roman, Tinos, DejaVu Serif, serif", "fontSize": 23, "fontWeight": "normal", "color": "#111", "offset": 32, "dx": -18},
  "layer": [
    {"data": {"name": "ecg"}, "mark": {"type": "line", "strokeWidth": 1.1},
     "encoding": {
       "x": {"field": "x", "type": "quantitative", "scale": {"domain": [0, 4000], "nice": false, "zero": false}, "axis": {"values": [500,1000,1500,2000,2500,3000,3500,4000], "format": "d", "title": "Sampling points", "labelPadding": 4, "titlePadding": 7}},
       "y": {"field": "y", "type": "quantitative", "scale": {"domain": [-1, 1], "nice": false}, "axis": {"values": [-1,-0.5,0,0.5,1], "labelExpr": "'' + datum.value", "title": "Amplitude/mV", "labelPadding": 4, "titlePadding": 18}},
       "color": {"datum": "ECG", "scale": {"domain": ["ECG", "Interferences"], "range": ["#1a1a1a", "#1a1a1a"]},
         "legend": {"orient": "none", "legendX": 161.5, "legendY": -9, "direction": "horizontal", "title": null, "symbolSize": 100, "symbolStrokeWidth": 1.1, "labelOffset": 27, "columnPadding": 9,
           "encode": {"symbols": {"update": {"shape": {"signal": "datum.value === 'Interferences' ? 'M-5.5,0H5.5M0,-0.8V0.8' : 'M-5.5,0H5.5'"}}}}}}
     }},
    {"data": {"name": "intB"}, "mark": {"type": "line", "strokeWidth": 1.1},
     "encoding": {
       "x": {"field": "x", "type": "quantitative"},
       "y": {"field": "y", "type": "quantitative"},
       "detail": {"field": "g"},
       "color": {"datum": "Interferences"}
     }},
    {"data": {"name": "intB"}, "mark": {"type": "point", "shape": "M-1,0H1M0,-1V1", "size": 72, "filled": false, "stroke": "#1a1a1a", "strokeWidth": 1.2, "opacity": 1},
     "encoding": {
       "x": {"field": "x", "type": "quantitative"},
       "y": {"field": "y", "type": "quantitative"}
     }}
  ]
}
]
}
